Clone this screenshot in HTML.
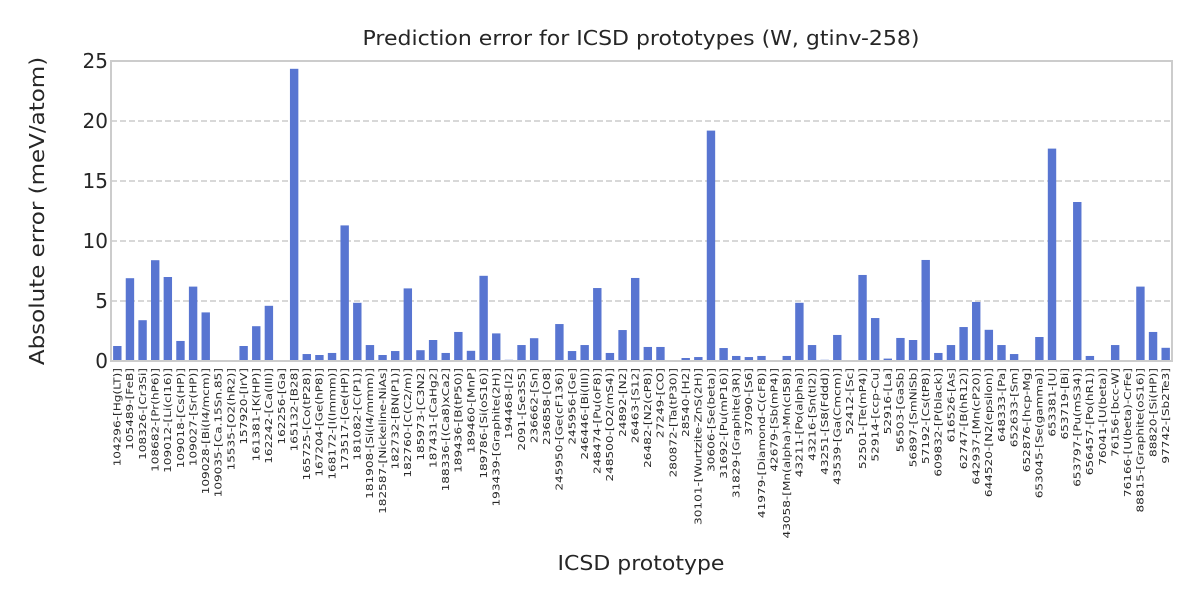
<!DOCTYPE html>
<html><head><meta charset="utf-8"><style>
body{margin:0;background:#fff;}
svg{display:block;font-family:"DejaVu Sans","Liberation Sans",sans-serif;}
</style></head><body>
<svg id="chart" width="1200" height="600">
<text transform="translate(641,45) scale(1.1,1)" text-anchor="middle" font-size="20" fill="#262626">Prediction error for ICSD prototypes (W, gtinv-258)</text>
<text transform="translate(44,211) rotate(-90) scale(1.15,1)" text-anchor="middle" font-size="20" fill="#262626">Absolute error (meV/atom)</text>
<text transform="translate(641,570) scale(1.1,1)" text-anchor="middle" font-size="20" fill="#262626">ICSD prototype</text>
<g id="grid"></g><g id="bars"></g><g id="yticks"></g><g id="xticks"></g>
<rect x="111" y="61" width="1061" height="300" fill="none" stroke="#cccccc" stroke-width="2"/>
</svg>
<script>
const categories=["104296-[Hg(LT)]","105489-[FeB]","108326-[Cr3Si]","108682-[Pr(hP6)]","109012-[Li(cI16)]","109018-[Cs(HP)]","109027-[Sr(HP)]","109028-[Bi(I4/mcm)]","109035-[Ca.15Sn.85]","15535-[O2(hR2)]","157920-[IrV]","161381-[K(HP)]","162242-[Ca(III)]","162256-[Ga]","165132-[B28]","165725-[Co(tP28)]","167204-[Ge(hP8)]","168172-[I(Immm)]","173517-[Ge(HP)]","181082-[C(P1)]","181908-[Si(I4/mmm)]","182587-[Nickeline-NiAs]","182732-[BN(P1)]","182760-[C(C2/m)]","185973-[C3N2]","187431-[CaHg2]","188336-[(Ca8)xCa2]","189436-[B(tP50)]","189460-[MnP]","189786-[Si(oS16)]","193439-[Graphite(2H)]","194468-[I2]","2091-[Se3S5]","236662-[Sn]","236858-[O8]","245950-[Ge(cF136)]","245956-[Ge]","246446-[Bi(III)]","248474-[Pu(oF8)]","248500-[O2(mS4)]","24892-[N2]","26463-[S12]","26482-[N2(cP8)]","27249-[CO]","280872-[Ta(tP30)]","28540-[H2]","30101-[Wurtzite-ZnS(2H)]","30606-[Se(beta)]","31692-[Pu(mP16)]","31829-[Graphite(3R)]","37090-[S6]","41979-[Diamond-C(cF8)]","42679-[Sb(mP4)]","43058-[Mn(alpha)-Mn(cI58)]","43211-[Po(alpha)]","43216-[Sn(tI2)]","43251-[S8(Fddd)]","43539-[Ga(Cmcm)]","52412-[Sc]","52501-[Te(mP4)]","52914-[ccp-Cu]","52916-[La]","56503-[GaSb]","56897-[SmNiSb]","57192-[Cs(tP8)]","609832-[P(black)]","616526-[As]","62747-[B(hR12)]","642937-[Mn(cP20)]","644520-[N2(epsilon)]","648333-[Pa]","652633-[Sm]","652876-[hcp-Mg]","653045-[Se(gamma)]","653381-[U]","653719-[Bi]","653797-[Pu(mS34)]","656457-[Po(hR1)]","76041-[U(beta)]","76156-[bcc-W]","76166-[U(beta)-CrFe]","88815-[Graphite(oS16)]","88820-[Si(HP)]","97742-[Sb2Te3]"];
const values=[1.25,6.9,3.4,8.4,7.0,1.67,6.2,4.05,0,0,1.25,2.9,4.6,0,24.35,0.58,0.5,0.67,11.3,4.85,1.33,0.5,0.83,6.05,0.9,1.75,0.67,2.42,0.85,7.1,2.3,0.1,1.33,1.9,0,3.08,0.83,1.33,6.08,0.67,2.58,6.92,1.17,1.17,0,0.25,0.33,19.2,1.08,0.42,0.33,0.42,0,0.42,4.85,1.33,0.1,2.17,0,7.17,3.58,0.2,1.92,1.75,8.42,0.67,1.33,2.83,4.92,2.6,1.33,0.58,0,2.0,17.7,0,13.25,0.42,0,1.33,0,6.2,2.42,1.1];
const yTicks=[0,5,10,15,20,25];
const NS="http://www.w3.org/2000/svg";
const L=111,R=1172,T=61,B=361,YMAX=25;
const step=(R-L)/categories.length;
const xPos=i=>L+step*(i+0.5);
const yPos=v=>B-(v/YMAX)*(B-T);
function mk(tag,attrs,parent){const e=document.createElementNS(NS,tag);for(const k in attrs)e.setAttribute(k,attrs[k]);parent.appendChild(e);return e;}
const grid=document.getElementById('grid'),bars=document.getElementById('bars'),yt=document.getElementById('yticks'),xt=document.getElementById('xticks');
yTicks.forEach(t=>{
 if(t>0&&t<YMAX){const g=mk('line',{x1:L,x2:R,y1:yPos(t),y2:yPos(t),stroke:'#cccccc','stroke-width':1.5,'stroke-dasharray':'6,3'},grid);
 
 }
 const tx=mk('text',{x:L-3,y:yPos(t)+7,'text-anchor':'end','font-size':20,fill:'#262626'},yt);
 tx.textContent=t;
 
 
});
categories.forEach((c,i)=>{
 const v=values[i];
 const r=mk('rect',{x:xPos(i)-4.2,y:yPos(v),width:8.4,height:B-yPos(v),fill:'#5875d1'},bars);
 
 
 const x=xPos(i)+3.3;
 const tx=mk('text',{transform:`translate(${x},368) rotate(-90) scale(1.3,1)`,'text-anchor':'end','font-size':9.3,fill:'#262626'},xt);
 tx.textContent=c;
 
 
});
</script>
</body></html>
